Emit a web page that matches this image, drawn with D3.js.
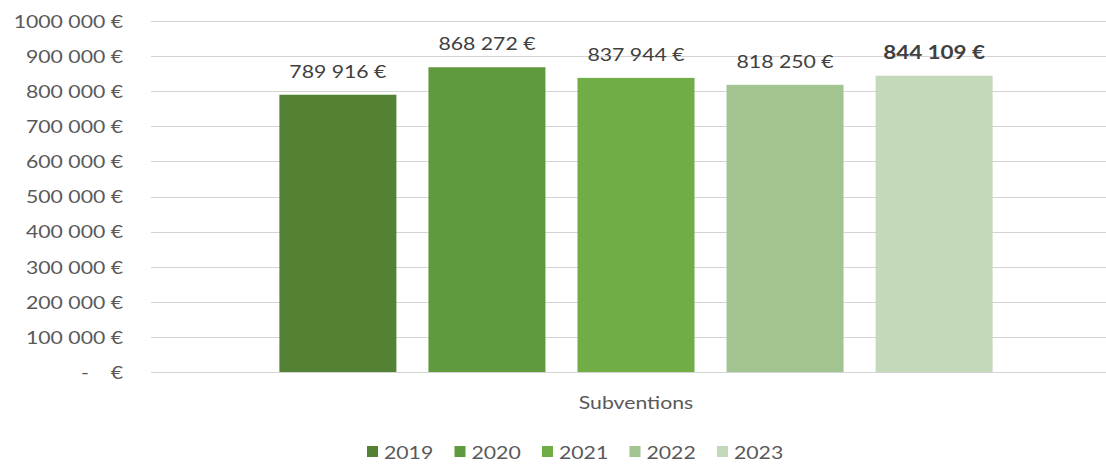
<!DOCTYPE html>
<html>
<head>
<meta charset="utf-8">
<script src="https://cdn.jsdelivr.net/npm/d3@7"></script>
<style>
  body { margin: 0; background: #fff; }
  text { font-family: Lato, "Open Sans", sans-serif; }
</style>
</head>
<body>
<div id="chart"></div>
<script>
var categories = ['Subventions'];
var years = ['2019', '2020', '2021', '2022', '2023'];
var values = [789916, 868272, 837944, 818250, 844109];
var valueLabels = ['789 916 €', '868 272 €', '837 944 €', '818 250 €', '844 109 €'];
var tickValues = [0, 100000, 200000, 300000, 400000, 500000, 600000, 700000, 800000, 900000, 1000000];
var tickLabels = ['-\u00a0\u00a0\u00a0\u00a0€', '100 000 €', '200 000 €', '300 000 €', '400 000 €', '500 000 €',
                  '600 000 €', '700 000 €', '800 000 €', '900 000 €', '1000 000 €'];
var colors = ['#548235', '#609a3f', '#70ad47', '#a2c490', '#c4d9ba'];

var W = 1106, H = 466;
var sx = 1.18;  // the picture is stretched sideways, text too

var svg = d3.select('#chart').append('svg')
  .attr('width', W).attr('height', H);

var y = d3.scaleLinear().domain([0, 1000000]).range([372, 21]);
var x0 = d3.scaleBand().domain(categories).range([151, 1121]).paddingOuter(0.18);
var x1 = d3.scaleBand().domain(years).range([0, x0.bandwidth()]).paddingInner(0.215);

// gridlines
svg.append('g')
  .selectAll('line')
  .data(tickValues)
  .enter()
  .append('line')
  .attr('x1', 151).attr('x2', W)
  .attr('y1', function(d){return Math.round(y(d)) + 0.5;})
  .attr('y2', function(d){return Math.round(y(d)) + 0.5;})
  .style('stroke', '#d4d4d4').style('stroke-width', 1);

// y axis
var yAxis = d3.axisLeft(y)
  .tickValues(tickValues)
  .tickSize(0)
  .tickFormat(function(d, i){return tickLabels[i];});

var ga = svg.append('g').attr('transform', 'translate(151,0)').call(yAxis);
ga.select('.domain').remove();
ga.selectAll('text')
  .attr('x', -28 / sx).attr('dy', '0.35em')
  .attr('transform', 'scale(' + sx + ',1)')
  .style('font-size', '18px').style('fill', '#595959');

// bars
var g = svg.append('g').attr('transform', 'translate(' + x0(categories[0]) + ',0)');
g.selectAll('rect')
  .data(values)
  .enter()
  .append('rect')
  .attr('x', function(d, i){return x1(years[i]);})
  .attr('y', function(d){return y(d);})
  .attr('width', x1.bandwidth())
  .attr('height', function(d){return y(0) - y(d);})
  .style('fill', function(d, i){return colors[i];});

// value labels
g.selectAll('.vlabel')
  .data(values)
  .enter()
  .append('text')
  .classed('vlabel', true)
  .attr('transform', function(d, i){
    return 'translate(' + (x1(years[i]) + x1.bandwidth() / 2) + ',' + (y(d) - 17) + ') scale(' + sx + ',1)';
  })
  .attr('text-anchor', 'middle')
  .style('font-size', function(d, i){return i === 4 ? '19px' : '18px';})
  .style('fill', '#404040')
  .style('font-weight', function(d, i){return i === 4 ? 'bold' : 'normal';})
  .text(function(d, i){return valueLabels[i];});

// category label
svg.append('text')
  .attr('transform', 'translate(' + (x0(categories[0]) + x0.bandwidth() / 2) + ',409) scale(' + sx + ',1)')
  .attr('text-anchor', 'middle')
  .style('font-size', '18px').style('fill', '#595959')
  .text(categories[0]);

// legend
var lg = svg.append('g').selectAll('g')
  .data(years)
  .enter()
  .append('g')
  .attr('transform', function(d, i){return 'translate(' + (367 + i * 87.5) + ',0)';});

lg.append('rect')
  .attr('x', 0).attr('y', 446).attr('width', 11).attr('height', 11)
  .style('fill', function(d, i){return colors[i];});

lg.append('text')
  .attr('transform', 'translate(17,459) scale(' + sx + ',1)')
  .style('font-size', '18px').style('fill', '#595959')
  .text(function(d){return d;});
</script>
</body>
</html>
